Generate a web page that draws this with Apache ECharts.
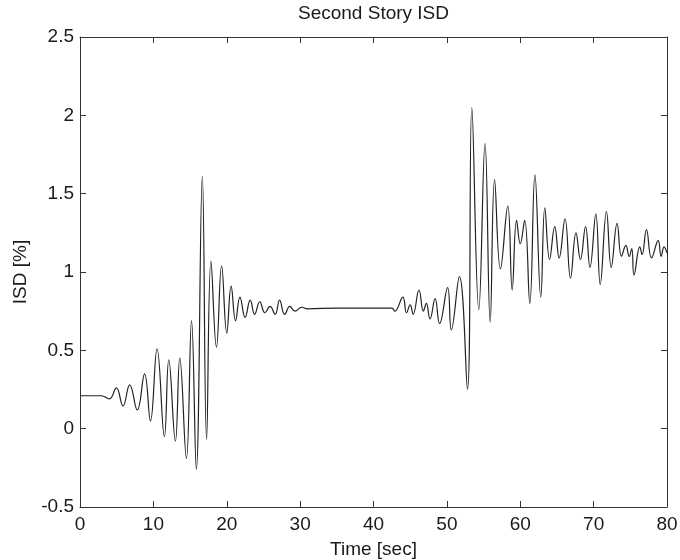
<!DOCTYPE html>
<html><head><meta charset="utf-8">
<script src="https://cdn.jsdelivr.net/npm/echarts@6/dist/echarts.min.js"></script>
<style>html,body{margin:0;padding:0;background:#fff}#c{width:680px;height:560px}</style>
</head><body><div id="c"></div>
<script>
// Time in seconds (peaks / troughs)
const timeSec = [0, 2.9, 4.0, 4.95, 5.86, 6.77, 7.8, 8.8, 9.6, 10.5, 11.5, 12.1, 13.0, 13.6, 14.5, 15.2, 15.85, 16.67, 17.25, 17.85,
  18.6, 19.3, 20.0, 20.6, 21.2, 21.8, 22.5, 23.2, 23.8, 24.5, 25.2, 25.9, 26.6, 27.2, 27.9, 28.6, 29.3, 30.2, 31.0, 35,
  42.5, 42.9, 44.0, 44.5, 45.0, 45.4, 46.2, 46.8, 47.2, 47.7, 48.4, 49.0, 50.1, 50.6, 51.7, 52.8, 53.4, 54.35, 55.2, 55.9,
  56.5, 57.3, 58.3, 58.9, 59.5, 60.0, 60.6, 61.3, 62.0, 62.8, 63.35, 64.0, 64.7, 65.3, 66.1, 66.85, 67.6, 68.2, 68.9, 69.5,
  70.3, 70.9, 71.75, 72.4, 73.2, 73.8, 74.4, 74.85, 75.2, 75.5, 76.3, 76.6, 77.2, 77.9, 78.8, 79.2, 79.6, 80];
// Inter-story drift [%]
const isd = [0.21, 0.21, 0.19, 0.26, 0.145, 0.28, 0.12, 0.35, 0.05, 0.51, -0.05, 0.44, -0.08, 0.45, -0.19, 0.69, -0.26, 1.61, -0.07, 1.07,
  0.52, 1.04, 0.61, 0.91, 0.69, 0.84, 0.71, 0.82, 0.73, 0.81, 0.74, 0.78, 0.73, 0.82, 0.73, 0.78, 0.75, 0.775, 0.765, 0.77,
  0.77, 0.75, 0.84, 0.74, 0.79, 0.73, 0.885, 0.75, 0.80, 0.70, 0.83, 0.67, 0.90, 0.63, 0.97, 0.25, 2.05, 0.76, 1.82, 0.68,
  1.59, 1.02, 1.42, 0.885, 1.33, 1.18, 1.33, 0.80, 1.62, 0.84, 1.41, 1.08, 1.29, 1.09, 1.34, 0.96, 1.25, 1.08, 1.29, 1.03,
  1.37, 0.92, 1.385, 1.03, 1.31, 1.10, 1.17, 1.10, 1.15, 0.98, 1.16, 1.11, 1.27, 1.09, 1.20, 1.10, 1.16, 1.12];

const xRange = [0, 80], xStep = 10;
const yRange = [-0.5, 2.5], yStep = 0.5;
const titleText = 'Second Story ISD';
const xName = 'Time [sec]';
const yName = 'ISD [%]';

const FONT = "'Liberation Sans', Arial, sans-serif";
const axisColor = '#333';
const txt = { color: '#1a1a1a', fontFamily: FONT, fontSize: 19 };

const chart = echarts.init(document.getElementById('c'), null, { renderer: 'canvas' });
const frameAxis = (extra) => Object.assign({
  type: 'value',
  axisLine: { show: true, onZero: false, lineStyle: { color: axisColor, width: 1 } },
  axisTick: { show: true, inside: true, length: 6, lineStyle: { color: axisColor } },
  splitLine: { show: false }
}, extra);

chart.setOption({
  animation: false,
  backgroundColor: '#fff',
  grid: { left: 80, right: 13, top: 37, bottom: 53, containLabel: false, outerBoundsMode: 'none' },
  xAxis: [
    frameAxis({ position: 'bottom', min: xRange[0], max: xRange[1], interval: xStep,
      axisLabel: Object.assign({ margin: 8 }, txt),
      name: xName, nameLocation: 'middle', nameGap: 33, nameTextStyle: txt }),
    frameAxis({ position: 'top', min: xRange[0], max: xRange[1], interval: xStep,
      axisLabel: { show: false },
      name: titleText, nameLocation: 'middle', nameGap: 14, nameTextStyle: txt })
  ],
  yAxis: [
    frameAxis({ position: 'left', min: yRange[0], max: yRange[1], interval: yStep,
      axisLabel: Object.assign({ margin: 6 }, txt),
      name: yName, nameLocation: 'middle', nameGap: 46, nameTextStyle: txt }),
    frameAxis({ position: 'right', min: yRange[0], max: yRange[1], interval: yStep,
      axisLabel: { show: false } })
  ],
  series: [{
    type: 'line',
    data: timeSec.map((t, i) => [t, isd[i]]),
    showSymbol: false,
    smooth: 0.45,
    lineStyle: { color: '#222', width: 1.2 },
    clip: true
  }]
});
</script></body></html>
